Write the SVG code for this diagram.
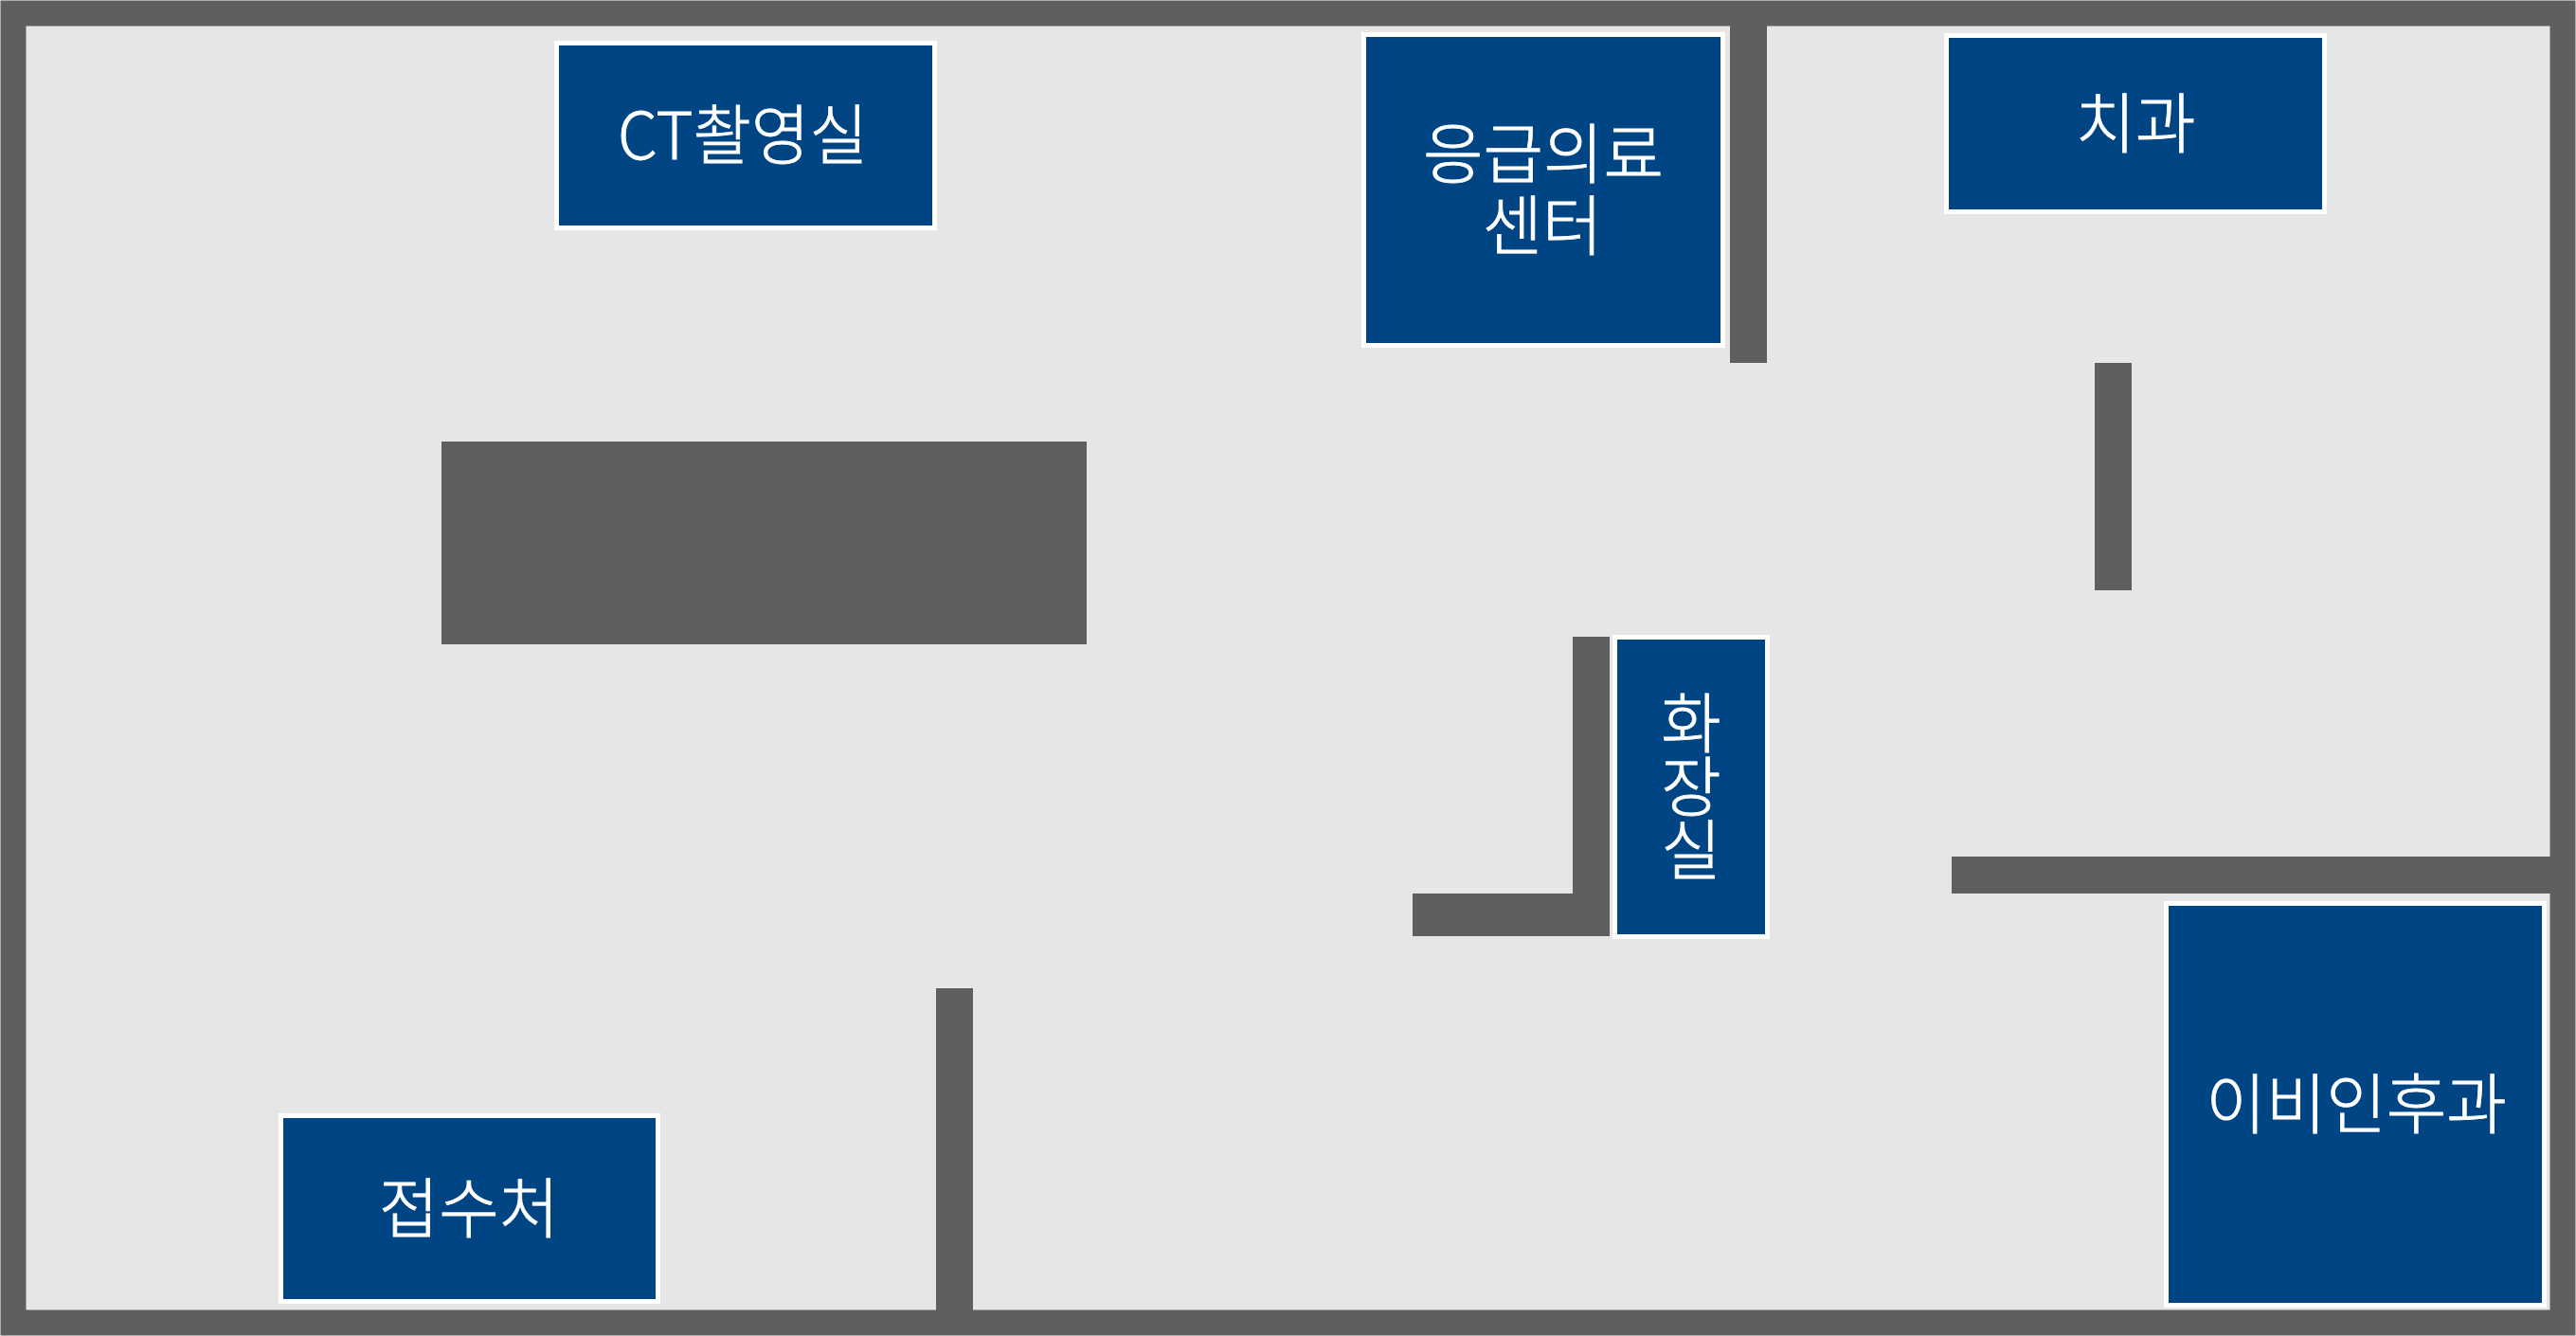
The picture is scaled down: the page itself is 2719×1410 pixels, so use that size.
<svg xmlns="http://www.w3.org/2000/svg" width="2719" height="1410" viewBox="0 0 2719 1410">
<style>
.wall{fill:#5f5f5f}
.room{fill:#004583;stroke:#fff;stroke-width:5}
.label{fill:#fff;stroke:#fff;stroke-width:.8;font-family:"Noto Sans CJK KR","Noto Sans",sans-serif;font-weight:300;font-size:69px;text-anchor:middle}
</style>
<rect width="2719" height="1410" fill="#fff"/>
<rect id="floor" x="14" y="14" width="2691" height="1382" fill="#e6e6e6" stroke="#5f5f5f" stroke-width="27"/>
<g id="walls">
<rect class="wall" x="1826" y="20" width="39" height="363"/>
<rect class="wall" x="2211" y="383" width="39" height="240"/>
<rect class="wall" x="466" y="466" width="681" height="214"/>
<rect class="wall" x="1660" y="672" width="39" height="316"/>
<rect class="wall" x="1491" y="943" width="208" height="45"/>
<rect class="wall" x="2060" y="904" width="640" height="39"/>
<rect class="wall" x="988" y="1043" width="39" height="345"/>
</g>
<g id="room-ct"><rect class="room" x="587.5" y="45.5" width="399" height="195"/><text class="label" x="784" y="168" textLength="264" lengthAdjust="spacingAndGlyphs">CT촬영실</text></g>
<g id="room-er"><rect class="room" x="1439.5" y="36.5" width="379" height="328"/><text class="label"><tspan x="1629" y="188">응급의료</tspan><tspan x="1628" y="264">센터</tspan></text></g>
<g id="room-dental"><rect class="room" x="2054.5" y="37.5" width="399" height="186"/><text class="label" x="2254" y="156">치과</text></g>
<g id="room-restroom"><rect class="room" x="1704.5" y="672.5" width="161" height="316"/><text class="label"><tspan x="1785" y="789">화</tspan><tspan x="1785" y="856">장</tspan><tspan x="1785" y="923">실</tspan></text></g>
<g id="room-ent"><rect class="room" x="2286.5" y="953.5" width="399" height="424"/><text class="label" x="2487" y="1191">이비인후과</text></g>
<g id="room-reception"><rect class="room" x="296.5" y="1177.5" width="398" height="196"/><text class="label" x="495" y="1301">접수처</text></g>
</svg>
